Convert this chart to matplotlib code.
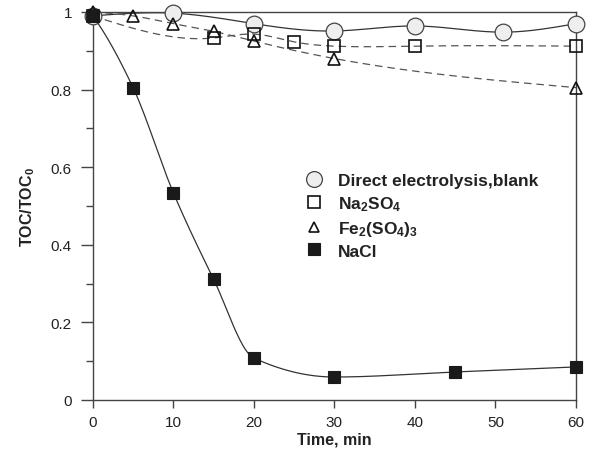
import numpy as np
import matplotlib
matplotlib.use("Agg")
import matplotlib.pyplot as plt
from matplotlib.ticker import FixedLocator, MultipleLocator

plt.rcParams['font.family'] = ['Liberation Sans', 'DejaVu Sans']
plt.rcParams['mathtext.default'] = 'regular'

# Data
t_blank = [0, 10, 20, 30, 40, 51, 60]
v_blank = [0.99, 0.997, 0.97, 0.951, 0.964, 0.948, 0.97]

t_na2so4 = [0, 15, 20, 25, 30, 40, 60]
v_na2so4 = [0.99, 0.933, 0.943, 0.923, 0.912, 0.912, 0.912]

t_fe = [0, 5, 10, 15, 20, 30, 60]
v_fe = [1.0, 0.99, 0.97, 0.95, 0.925, 0.88, 0.805]

t_nacl = [0, 5, 10, 15, 20, 30, 45, 60]
v_nacl = [0.99, 0.805, 0.534, 0.311, 0.108, 0.059, 0.072, 0.085]

labels = ['Direct electrolysis,blank', 'Na$_2$SO$_4$', 'Fe$_2$(SO$_4$)$_3$', 'NaCl']
yticks = [0, 0.2, 0.4, 0.6, 0.8, 1.0]
yticklabels = ['0', '0.2', '0.4', '0.6', '0.8', '1']


def natural_spline(x, y, n=300):
    x = np.asarray(x, float); y = np.asarray(y, float)
    k = len(x)
    h = np.diff(x)
    A = np.zeros((k, k)); b = np.zeros(k)
    A[0, 0] = 1; A[-1, -1] = 1
    for i in range(1, k - 1):
        A[i, i - 1] = h[i - 1]
        A[i, i] = 2 * (h[i - 1] + h[i])
        A[i, i + 1] = h[i]
        b[i] = 3 * ((y[i + 1] - y[i]) / h[i] - (y[i] - y[i - 1]) / h[i - 1])
    c = np.linalg.solve(A, b)
    xs = np.linspace(x[0], x[-1], n)
    ys = np.empty_like(xs)
    for j, xv in enumerate(xs):
        i = min(np.searchsorted(x, xv, side='right') - 1, k - 2)
        dx = xv - x[i]
        bi = (y[i + 1] - y[i]) / h[i] - h[i] * (2 * c[i] + c[i + 1]) / 3
        di = (c[i + 1] - c[i]) / (3 * h[i])
        ys[j] = y[i] + bi * dx + c[i] * dx ** 2 + di * dx ** 3
    return xs, ys


def pchip(x, y, n=300):
    x = np.asarray(x, float); y = np.asarray(y, float)
    h = np.diff(x)
    delta = np.diff(y) / h
    k = len(x)
    d = np.zeros(k)
    for i in range(1, k - 1):
        if delta[i - 1] * delta[i] > 0:
            w1 = 2 * h[i] + h[i - 1]
            w2 = h[i] + 2 * h[i - 1]
            d[i] = (w1 + w2) / (w1 / delta[i - 1] + w2 / delta[i])
    d[0] = ((2 * h[0] + h[1]) * delta[0] - h[0] * delta[1]) / (h[0] + h[1])
    if np.sign(d[0]) != np.sign(delta[0]):
        d[0] = 0
    d[-1] = ((2 * h[-1] + h[-2]) * delta[-1] - h[-1] * delta[-2]) / (h[-1] + h[-2])
    if np.sign(d[-1]) != np.sign(delta[-1]):
        d[-1] = 0
    xs = np.linspace(x[0], x[-1], n)
    ys = np.empty_like(xs)
    for j, xv in enumerate(xs):
        i = min(np.searchsorted(x, xv, side='right') - 1, k - 2)
        t = (xv - x[i]) / h[i]
        h00 = 2 * t**3 - 3 * t**2 + 1
        h10 = t**3 - 2 * t**2 + t
        h01 = -2 * t**3 + 3 * t**2
        h11 = t**3 - t**2
        ys[j] = h00 * y[i] + h10 * h[i] * d[i] + h01 * y[i + 1] + h11 * h[i] * d[i + 1]
    return xs, ys


fig = plt.figure(figsize=(5.95, 4.64), dpi=100)
ax = fig.add_axes([0.156, 0.136, 0.812, 0.836])

lc = '#333333'
xs, ys = natural_spline(t_blank, v_blank)
ax.plot(xs, ys, '-', color=lc, lw=0.9, clip_on=False, zorder=2)
xs, ys = natural_spline(t_na2so4, v_na2so4)
ax.plot(xs, ys, color='#555555', lw=0.9, dashes=(6, 4), clip_on=False, zorder=2)
xs, ys = natural_spline(t_fe, v_fe)
ax.plot(xs, ys, color='#555555', lw=0.9, dashes=(6, 4), clip_on=False, zorder=2)
xs, ys = pchip(t_nacl, v_nacl)
ax.plot(xs, ys, '-', color=lc, lw=0.9, clip_on=False, zorder=2)

h1, = ax.plot(t_blank, v_blank, 'o', ms=12, mfc='#eeeef0', mec='#444444', mew=0.9,
              ls='none', clip_on=False, zorder=3)
h2, = ax.plot(t_na2so4, v_na2so4, 's', ms=9, mfc='none', mec='#111111', mew=1.2,
              ls='none', clip_on=False, zorder=4)
h3, = ax.plot(t_fe, v_fe, '^', ms=8, mfc='none', mec='#111111', mew=1.2,
              ls='none', clip_on=False, zorder=4)
h4, = ax.plot(t_nacl, v_nacl, 's', ms=9, mfc='#1a1a1a', mec='#1a1a1a', mew=0.8,
              ls='none', clip_on=False, zorder=4)

ax.set_xlim(0, 60)
ax.set_ylim(0, 1)
ax.xaxis.set_major_locator(MultipleLocator(10))
ax.yaxis.set_major_locator(FixedLocator(yticks))
ax.yaxis.set_minor_locator(FixedLocator([0.1, 0.3, 0.5, 0.7, 0.9]))
ax.set_yticklabels(yticklabels)

for s in ax.spines.values():
    s.set_color('#444444')
    s.set_linewidth(1.0)

ax.tick_params(axis='both', which='major', direction='out', color='#444444',
               labelsize=11, labelcolor='#222222', width=1.0)
ax.tick_params(axis='y', which='major', length=9, pad=6)
ax.tick_params(axis='y', which='minor', length=5, width=1.0, color='#444444')
ax.tick_params(axis='x', which='major', length=6, pad=5)

ax.set_xlabel('Time, min', fontsize=11.5, fontweight='bold', color='#222222', labelpad=2)
ax.set_ylabel('TOC/TOC$_0$', fontsize=11.5, fontweight='bold', color='#222222', labelpad=10)

leg = ax.legend([h1, h2, h3, h4], labels, loc='upper left', bbox_to_anchor=(0.421, 0.602),
                frameon=False, prop={'weight': 'bold', 'size': 12.5}, handletextpad=0.8,
                labelspacing=0.33, borderaxespad=0, handlelength=1.2, markerscale=0.95)
for t in leg.get_texts():
    t.set_color('#222222')

fig.savefig('out.png', dpi=100)
